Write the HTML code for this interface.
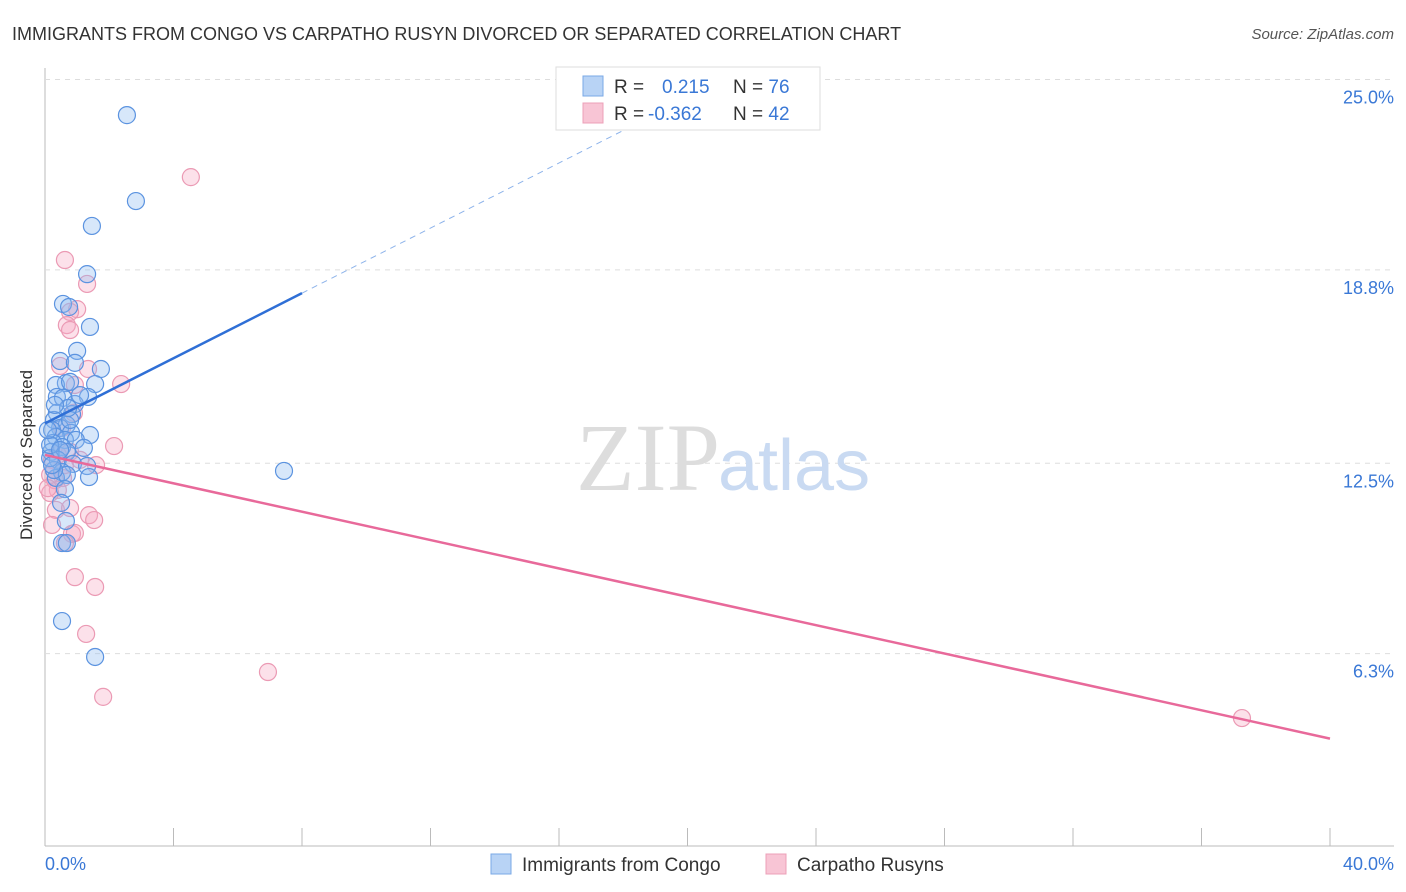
<!DOCTYPE html>
<html><head><meta charset="utf-8"><style>
body{margin:0;background:#fff;font-family:"Liberation Sans",sans-serif;}
svg{display:block}
</style></head><body>
<svg width="1406" height="892" id="chart">
<text x="12" y="40" font-size="18" fill="#333">IMMIGRANTS FROM CONGO VS CARPATHO RUSYN DIVORCED OR SEPARATED CORRELATION CHART</text>
<text x="1394" y="39" font-size="15" fill="#555" font-style="italic" text-anchor="end">Source: ZipAtlas.com</text>
<text x="32" y="455" font-size="17" fill="#333" text-anchor="middle" transform="rotate(-90 32 455)">Divorced or Separated</text>
<g id="grid"></g>
<text x="720" y="490" font-size="96" fill="#ddd" text-anchor="end" font-family="Liberation Serif,serif">ZIP</text>
<text x="718" y="490" font-size="72" fill="#c9daf2">atlas</text>
<g id="marks"></g>
<g>
<rect x="556" y="67" width="264" height="63" fill="#fff" stroke="#ddd"/>
<rect x="583" y="76" width="20" height="20" fill="#b8d3f5" stroke="#7aa8e6"/>
<rect x="583" y="103" width="20" height="20" fill="#f8c5d5" stroke="#eca0b8"/>
<text x="614" y="93" font-size="19" fill="#333">R = <tspan fill="#3a78d6" x="662">0.215</tspan><tspan x="733" fill="#333">N = </tspan><tspan fill="#3a78d6">76</tspan></text>
<text x="614" y="120" font-size="19" fill="#333">R = <tspan fill="#3a78d6" x="648">-0.362</tspan><tspan x="733" fill="#333">N = </tspan><tspan fill="#3a78d6">42</tspan></text>
</g>
<g>
<rect x="491" y="854" width="20" height="20" fill="#b8d3f5" stroke="#7aa8e6"/>
<text x="522" y="871" font-size="19" fill="#333">Immigrants from Congo</text>
<rect x="766" y="854" width="20" height="20" fill="#f8c5d5" stroke="#eca0b8"/>
<text x="797" y="871" font-size="19" fill="#333">Carpatho Rusyns</text>
</g>
<text x="45" y="870" font-size="18" fill="#3a78d6">0.0%</text>
<text x="1394" y="870" font-size="18" fill="#3a78d6" text-anchor="end">40.0%</text>
</svg>
<script>
const yTicks=[25.0,18.8,12.5,6.3];
const yTickLabels=["25.0%","18.8%","12.5%","6.3%"];
const bluePx=[[127,115],[136,201],[92,226],[87,274],[63,304],[69,307],[90,327],[77,351],[60,361],[75,363],[101,369],[66,383],[95,384],[56,385],[70,382],[57,397],[63,398],[88,397],[75,404],[72,414],[57,413],[54,420],[67,425],[60,428],[52,430],[71,433],[90,435],[56,437],[65,440],[53,443],[76,440],[84,448],[62,447],[51,452],[67,452],[58,460],[73,464],[87,466],[62,472],[56,478],[89,477],[67,475],[65,489],[61,503],[66,521],[62,543],[67,543],[62,621],[95,657],[284,471],[54,470],[50,458],[50,445],[48,430],[52,465],[60,450],[70,420],[80,395],[68,408],[55,405]];
const pinkPx=[[191,177],[65,260],[87,284],[77,309],[70,312],[67,325],[70,330],[88,369],[121,384],[60,366],[75,385],[74,413],[62,428],[114,446],[70,452],[96,465],[52,460],[54,470],[63,478],[58,490],[50,493],[56,510],[70,508],[52,525],[89,515],[94,520],[72,534],[75,533],[65,543],[75,577],[95,587],[86,634],[103,697],[268,672],[1242,718],[60,450],[55,480],[65,465],[50,475],[48,488],[58,455],[80,460]];
// data values (x %, y %) derived from reading the picture
const blueX=bluePx.map(p=>+((p[0]-45)/1285*40).toFixed(2));
const blueY=bluePx.map(p=>+((847-p[1])/30.7).toFixed(2));
const pinkX=pinkPx.map(p=>+((p[0]-45)/1285*40).toFixed(2));
const pinkY=pinkPx.map(p=>+((847-p[1])/30.7).toFixed(2));
const blueTrend=[13.8,0.53];
const pinkTrend=[12.77,-0.231];
const X=v=>45+v/40*1285, Y=v=>847-v*30.7;
const NS="http://www.w3.org/2000/svg";
const grid=document.getElementById('grid'),marks=document.getElementById('marks');
function mk(tag,attrs,parent){const e=document.createElementNS(NS,tag);for(const k in attrs)e.setAttribute(k,attrs[k]);parent.appendChild(e);return e;}
let ax=mk('line',{x1:45,y1:68,x2:45,y2:846,stroke:'#bbb'},grid);


let bx=mk('line',{x1:45,y1:846,x2:1394,y2:846,stroke:'#bbb'},grid);


for(let i=0;i<=10;i++){let t=mk('line',{x1:X(i*4),x2:X(i*4),y1:828,y2:846,stroke:'#bbb'},grid);

}
yTicks.forEach((v,i)=>{let g=mk('line',{x1:45,x2:1394,y1:Y(v),y2:Y(v),stroke:'#ddd','stroke-dasharray':'5,5'},grid);


let t=mk('text',{x:1394,y:Y(v)+24,'font-size':18,fill:'#3a78d6','text-anchor':'end'},grid);t.textContent=yTickLabels[i];

});
pinkX.forEach((x,i)=>{let c=mk('circle',{cx:X(x),cy:Y(pinkY[i]),r:8.5,fill:'rgba(245,170,195,0.35)',stroke:'#eb9ab4','stroke-width':1.2},marks);

});
blueX.forEach((x,i)=>{let c=mk('circle',{cx:X(x),cy:Y(blueY[i]),r:8.5,fill:'rgba(140,185,240,0.35)',stroke:'#5b93e0','stroke-width':1.2},marks);

});
let l1=mk('line',{x1:X(0),y1:Y(blueTrend[0]),x2:X(8),y2:Y(blueTrend[0]+8*blueTrend[1]),stroke:'#2f6fd6','stroke-width':2.5},marks);


let xe=(25.4-blueTrend[0])/blueTrend[1];
let l2=mk('line',{x1:X(8),y1:Y(blueTrend[0]+8*blueTrend[1]),x2:X(xe),y2:Y(25.4),stroke:'#8db3ea','stroke-width':1,'stroke-dasharray':'6,5'},marks);


let l3=mk('line',{x1:X(0),y1:Y(pinkTrend[0]),x2:X(40),y2:Y(pinkTrend[0]+40*pinkTrend[1]),stroke:'#e8699a','stroke-width':2.5},marks);


</script>
</body></html>
